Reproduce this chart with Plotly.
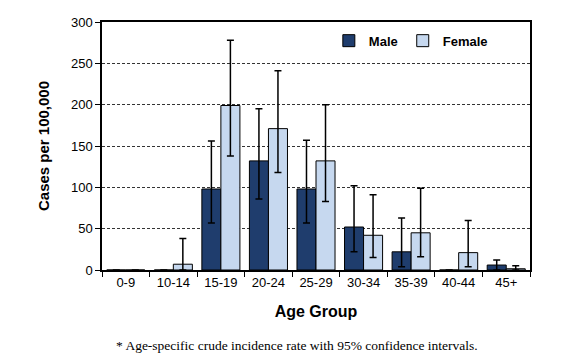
import plotly.graph_objects as go

categories = ["0-9", "10-14", "15-19", "20-24", "25-29", "30-34", "35-39", "40-44", "45+"]
male = [0, 0, 98, 132, 98, 52, 22, 0, 6]
male_upper = [0, 0, 156, 195, 157, 102, 63, 0, 12]
male_lower = [0, 0, 57, 86, 57, 22, 4, 0, 0]
female = [0, 7, 199, 171, 132, 42, 45, 21, 1.5]
female_upper = [0, 38, 278, 241, 200, 91, 99, 60, 5]
female_lower = [0, 0, 138, 118, 83, 15, 16, 4, 0]

def err(v, up, lo):
    plus = [u - x for x, u in zip(v, up)]
    minus = [x - l for x, l in zip(v, lo)]
    return plus, minus

mp, mm = err(male, male_upper, male_lower)
fp, fm = err(female, female_upper, female_lower)

eb = dict(color="black", thickness=1.5, width=3.5)

fig = go.Figure()
fig.add_trace(go.Bar(
    name="Male", x=categories, y=male,
    marker=dict(color="#1F3D6D", line=dict(color="black", width=1)),
    error_y=dict(type="data", symmetric=False, array=mp, arrayminus=mm, **eb),
))
fig.add_trace(go.Bar(
    name="Female", x=categories, y=female,
    marker=dict(color="#C6D8EF", line=dict(color="black", width=1)),
    error_y=dict(type="data", symmetric=False, array=fp, arrayminus=fm, **eb),
))

font_sans = "Liberation Sans, Arial, sans-serif"
fig.update_layout(
    width=565, height=348,
    margin=dict(l=94, r=43, t=7, b=86),
    paper_bgcolor="white", plot_bgcolor="white",
    barmode="group", bargap=0.2, bargroupgap=0,
    font=dict(family=font_sans, size=13, color="black"),
    legend=dict(
        orientation="h", x=0.53, y=0.985, xanchor="left", yanchor="top",
        font=dict(family=font_sans, size=13, color="black", weight="bold"),
        bgcolor="rgba(0,0,0,0)", itemwidth=30,
    ),
    xaxis=dict(
        title=dict(text="<b>Age Group</b>", font=dict(size=16), standoff=16),
        showline=True, linecolor="black", linewidth=1.5, mirror=True,
        ticks="outside", ticklen=5, tickcolor="black", tickson="boundaries",
        showgrid=False, tickfont=dict(size=13),
    ),
    yaxis=dict(
        title=dict(text="<b>Cases per 100,000</b>", font=dict(size=15), standoff=18),
        range=[0, 300], dtick=50,
        showline=True, linecolor="black", linewidth=1.5, mirror=True,
        ticks="outside", ticklen=5, tickcolor="black",
        showgrid=True, gridcolor="#333333", gridwidth=1, griddash="3px,2px",
        tickfont=dict(size=13), zeroline=False,
    ),
    annotations=[dict(
        text="* Age-specific crude incidence rate with 95% confidence intervals.",
        xref="paper", yref="paper", x=0.455, y=-0.265, xanchor="center", yanchor="top",
        showarrow=False,
        font=dict(family="Liberation Serif, Times New Roman, serif", size=13.5, color="black"),
    )],
)

fig.write_html("out.html")
